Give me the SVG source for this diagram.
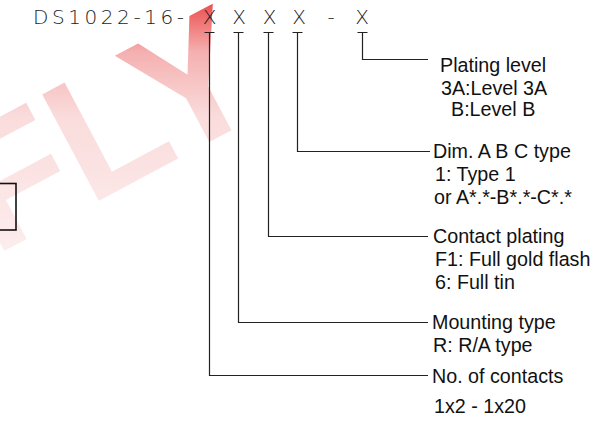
<svg xmlns="http://www.w3.org/2000/svg" width="607" height="421" viewBox="0 0 607 421">
<defs>
<linearGradient id="wm" gradientUnits="userSpaceOnUse" x1="93.8" y1="-176.6" x2="-28.1" y2="53">
<stop offset="0" stop-color="#ec4848"/>
<stop offset="0.2" stop-color="#f5b0b0"/>
<stop offset="0.45" stop-color="#fadcdc"/>
<stop offset="1" stop-color="#fdeeee"/>
</linearGradient>
<style>
.hdr{font-family:"DejaVu Sans","Liberation Sans",sans-serif;font-size:20px;font-weight:200;fill:#222}
.lbl{font-family:"Liberation Sans",Arial,sans-serif;font-size:19.7px;fill:#111}
.ln{fill:none;stroke:#222;stroke-width:1.2}
.wm{font-family:"Liberation Sans",Arial,sans-serif;font-weight:bold;font-size:175px;fill:url(#wm)}
</style>
</defs>
<rect width="607" height="421" fill="#fff"/>
<g id="watermark">
<text class="wm" transform="translate(100,200) rotate(-28)" x="-120" y="0">FLY</text>
</g>
<g id="left-box">
<rect x="-10" y="183.5" width="26" height="46.5" fill="none" stroke="#111" stroke-width="1.6"/>
</g>
<g id="part-number">
<text class="hdr" x="33" y="24" textLength="151" lengthAdjust="spacing">DS1022-16-</text>
<text class="hdr" x="209.5" y="24" text-anchor="middle">X</text>
<text class="hdr" x="239" y="24" text-anchor="middle">X</text>
<text class="hdr" x="269.5" y="24" text-anchor="middle">X</text>
<text class="hdr" x="299" y="24" text-anchor="middle">X</text>
<text class="hdr" x="331" y="24" text-anchor="middle">-</text>
<text class="hdr" x="362" y="24" text-anchor="middle">X</text>
</g>
<g id="connectors">
<path class="ln" d="M204.5 32.5H214.5M209.5 32.5V375.5H428"/>
<path class="ln" d="M233.5 32.5H243.5M238.5 32.5V322.5H428"/>
<path class="ln" d="M263.5 32.5H273.5M268.5 32.5V236.5H428"/>
<path class="ln" d="M292.5 32.5H302.5M297.5 32.5V151.5H430"/>
<path class="ln" d="M357.5 32.5H367.5M362.5 32.5V59.5H428"/>
</g>
<g id="plating-level">
<text class="lbl" x="440" y="72">Plating level</text>
<text class="lbl" x="441" y="95">3A:Level 3A</text>
<text class="lbl" x="451" y="116">B:Level B</text>
</g>
<g id="dim-type">
<text class="lbl" x="433" y="158">Dim. A B C type</text>
<text class="lbl" x="435" y="181">1: Type 1</text>
<text class="lbl" x="434" y="204">or A*.*-B*.*-C*.*</text>
</g>
<g id="contact-plating">
<text class="lbl" x="433" y="243">Contact plating</text>
<text class="lbl" x="435" y="266">F1: Full gold flash</text>
<text class="lbl" x="435" y="289">6: Full tin</text>
</g>
<g id="mounting-type">
<text class="lbl" x="432" y="329">Mounting type</text>
<text class="lbl" x="433" y="352">R: R/A type</text>
</g>
<g id="contacts">
<text class="lbl" x="432" y="383">No. of contacts</text>
<text class="lbl" x="434" y="413">1x2 - 1x20</text>
</g>
</svg>
